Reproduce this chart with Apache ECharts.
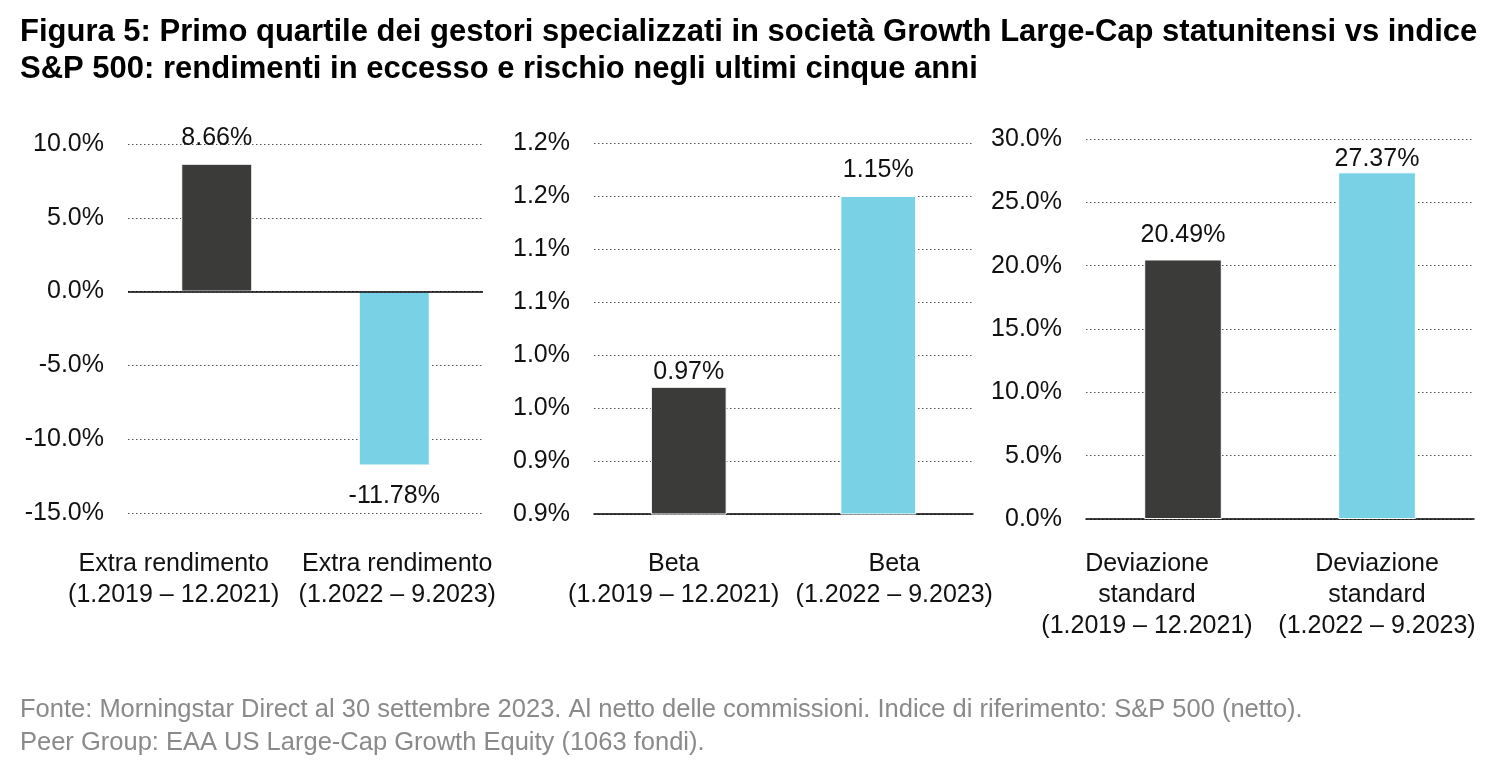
<!DOCTYPE html>
<html>
<head>
<meta charset="utf-8">
<script src="https://cdn.jsdelivr.net/npm/echarts@6/dist/echarts.min.js"></script>
<style>
  html, body { margin: 0; padding: 0; background: #fff; }
  #chart { width: 1500px; height: 768px; }
</style>
</head>
<body>
<div id="chart"></div>
<script>
var catExtra = ['Extra rendimento\n(1.2019 – 12.2021)', 'Extra rendimento\n(1.2022 – 9.2023)'];
var catBeta = ['Beta\n(1.2019 – 12.2021)', 'Beta\n(1.2022 – 9.2023)'];
var catDev = ['Deviazione\nstandard\n(1.2019 – 12.2021)', 'Deviazione\nstandard\n(1.2022 – 9.2023)'];

var extraRendimento = [8.66, -11.78];
var beta = [0.97, 1.15];
var deviazione = [20.49, 27.37];

// min, max, interval of each value axis
var extraTicks = [-15, 10, 5];
var betaTicks = [0.85, 1.2, 0.05];
var devTicks = [0, 30, 5];

var titleText = 'Figura 5: Primo quartile dei gestori specializzati in società Growth Large-Cap statunitensi vs indice\nS&P 500: rendimenti in eccesso e rischio negli ultimi cinque anni';
var footText = 'Fonte: Morningstar Direct al 30 settembre 2023. Al netto delle commissioni. Indice di riferimento: S&P 500 (netto).\nPeer Group: EAA US Large-Cap Growth Equity (1063 fondi).';

var barColors = ['#3b3c3a', '#78d1e4'];
var font = 'Liberation Sans, Arial, sans-serif';

// label gap above/below bars and horizontal shift of category labels
var gaps = [[13, 18], [2, 13], [12, 1]];
var shifts = [[-43, 3], [-15, 16], [-36, 0]];

function pct1(v) {
    return (Math.round(v * 10) / 10).toFixed(1) + '%';
}

function xAxis(idx, cats, margin, showLine) {
    return {
        type: 'category', gridIndex: idx, data: cats,
        axisLine: { show: showLine, onZero: false, lineStyle: { color: '#000', width: 1.5 } },
        axisTick: { show: false },
        axisLabel: {
            interval: 0, margin: margin,
            formatter: function (val, i) {
                var s = shifts[idx][i];
                var key = s < 0 ? 'l' + idx + i : 'r' + idx + i;
                return val.split('\n').map(function (t) { return '{' + key + '|' + t + '}'; }).join('\n');
            },
            rich: buildRich(idx)
        }
    };
}

function buildRich(idx) {
    var r = {};
    shifts[idx].forEach(function (s, i) {
        var pad = s < 0 ? [0, -2 * s, 0, 0] : [0, 0, 0, 2 * s];
        r[(s < 0 ? 'l' : 'r') + idx + i] = {
            fontSize: 25, fontFamily: font, color: '#111', lineHeight: 31, padding: pad
        };
    });
    return r;
}

function yAxis(idx, t) {
    return {
        type: 'value', gridIndex: idx, min: t[0], max: t[1], interval: t[2],
        axisLine: { show: false }, axisTick: { show: false },
        splitLine: { show: true, lineStyle: { color: '#555', type: [1.5, 2.5], width: 1 } },
        axisLabel: { fontSize: 25, fontFamily: font, color: '#111', margin: 24, formatter: pct1 }
    };
}

function barSeries(idx, values) {
    return {
        type: 'bar', xAxisIndex: idx, yAxisIndex: idx, barWidth: '40%',
        itemStyle: { borderColor: '#fff', borderWidth: 1 },
        data: values.map(function (v, i) {
            return {
                value: v,
                itemStyle: { color: barColors[i] },
                label: { position: v < 0 ? 'bottom' : 'top', distance: gaps[idx][i] }
            };
        }),
        label: {
            show: true, fontSize: 25, fontFamily: font, color: '#111',
            formatter: function (p) { return p.value.toFixed(2) + '%'; }
        }
    };
}

var chart = echarts.init(document.getElementById('chart'));

var zeroSeries = barSeries(0, extraRendimento);
zeroSeries.markLine = {
    silent: true, symbol: 'none', label: { show: false },
    lineStyle: { color: '#000', type: 'solid', width: 1.5 },
    data: [{ yAxis: 0 }]
};

chart.setOption({
    animation: false,
    backgroundColor: '#fff',
    title: [
        {
            text: titleText, left: 15, top: 9,
            textStyle: { fontSize: 31, fontWeight: 'bold', fontFamily: font, color: '#000', lineHeight: 37 }
        },
        {
            text: footText, left: 15, top: 688,
            textStyle: { fontSize: 25.5, fontWeight: 'normal', fontFamily: font, color: '#8a8a8a', lineHeight: 33 }
        }
    ],
    grid: [
        { left: 128, right: 1017, top: 144, bottom: 255 },
        { left: 594, right: 527, top: 143, bottom: 254 },
        { left: 1086, right: 26, top: 139, bottom: 249 }
    ],
    xAxis: [
        xAxis(0, catExtra, 36, false),
        xAxis(1, catBeta, 35, true),
        xAxis(2, catDev, 30, true)
    ],
    yAxis: [
        yAxis(0, extraTicks),
        yAxis(1, betaTicks),
        yAxis(2, devTicks)
    ],
    series: [
        zeroSeries,
        barSeries(1, beta),
        barSeries(2, deviazione)
    ]
});
</script>
</body>
</html>
